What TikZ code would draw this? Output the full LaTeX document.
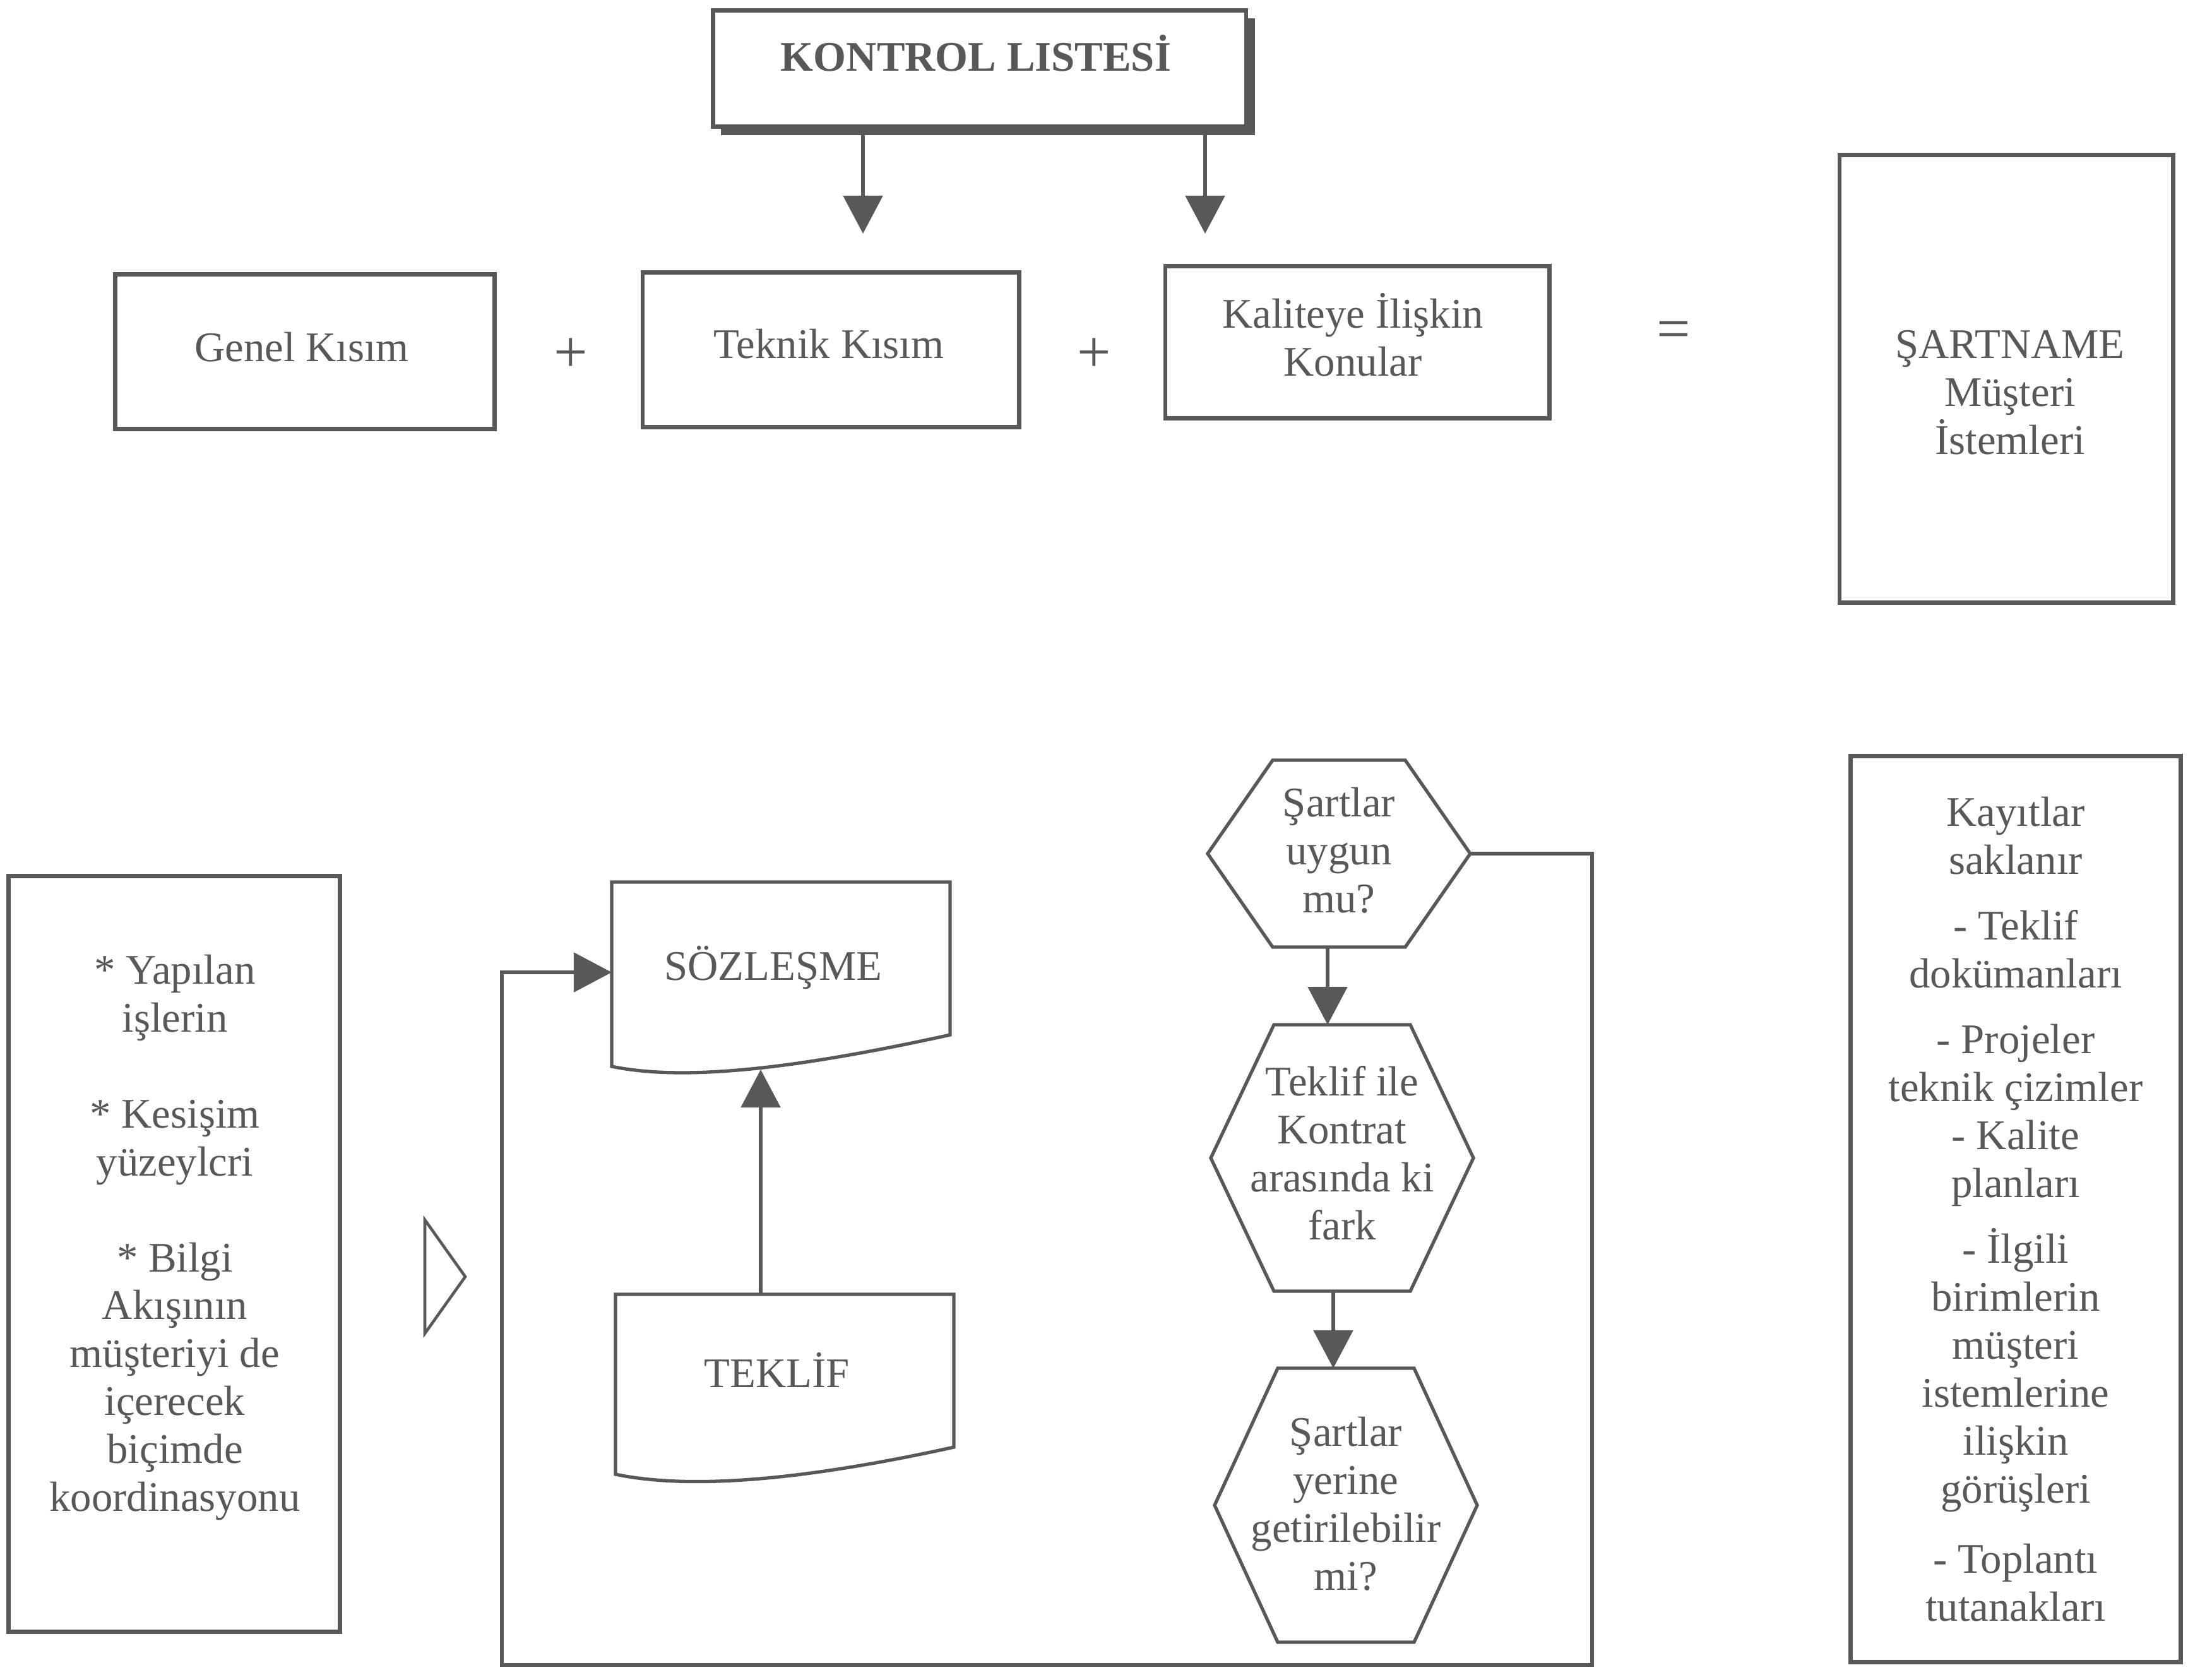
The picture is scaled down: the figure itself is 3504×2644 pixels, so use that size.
\documentclass[tikz,border=0pt]{standalone}
\usepackage{fontspec}
\setmainfont{Liberation Serif}
\usetikzlibrary{arrows.meta}
\definecolor{ink}{RGB}{88,88,88}
\begin{document}
\begin{tikzpicture}[x=0.01cm,y=-0.01cm,
  every node/.style={text=ink, font=\fontsize{19}{21.6}\selectfont, align=center, inner sep=0pt},
  box/.style={draw=ink, line width=1.9pt, fill=white},
  ln/.style={draw=ink, line width=1.5pt},
  arr/.style={ln, -{Triangle[length=0.6cm,width=0.62cm]}},
  sym/.style={font=\fontsize{27}{27}\selectfont},
  hexagon/.style={draw=ink, line width=1.5pt, line join=miter}
]
\useasboundingbox (0,0) rectangle (3504,2644);
\fill[white] (0,0) rectangle (3504,2644);

% ---------- top part ----------
\fill[ink] (1142,29) rectangle (1988,214);
\node[box, minimum width=8.44cm, minimum height=1.84cm, anchor=north west] (kontrol) at (1126,13) {};
\node[font=\bfseries\fontsize{19}{21.6}\selectfont] (kontrolt) at (1546,84) {KONTROL LISTESİ};

\coordinate (ka) at (1367,370);
\coordinate (kb) at (1909,370);
\draw[arr] (kontrol.south -| ka) -- (ka);
\draw[arr] (kontrol.south -| kb) -- (kb);

\node[box, minimum width=6.01cm, minimum height=2.45cm] (genel) at (483,557) {};
\node (genelt) at (478,550) {Genel Kısım};
\node[sym] (plus1) at (904,563) {+};
\node[box, minimum width=5.96cm, minimum height=2.45cm] (teknik) at (1316,554) {};
\node (teknikt) at (1313,545) {Teknik Kısım};
\node[sym] (plus2) at (1733,563) {+};
\node[box, minimum width=6.08cm, minimum height=2.41cm] (kalite) at (2150,542) {};
\node (kalitet) at (2143,530) {Kaliteye İlişkin\\Konular};
\node[sym] (esit) at (2651,531) {=};
\node[box, minimum width=5.28cm, minimum height=7.09cm] (sartname) at (3178,600) {};
\node (sartnamet) at (3184,622) {ŞARTNAME\\Müşteri\\İstemleri};

% ---------- bottom left ----------
\node[box, minimum width=5.25cm, minimum height=11.96cm] (solkutu) at (276,1986) {};
\node (solt) at (277,1960) {* Yapılan\\işlerin\\[21.6pt]* Kesişim\\yüzeylcri\\[21.6pt]* Bilgi\\Akışının\\müşteriyi de\\içerecek\\biçimde\\koordinasyonu};

\draw[ink, line width=1.3pt, line join=miter] (673,1932) -- (737,2022) -- (673,2112) -- cycle;

% ---------- documents ----------
\draw[ln, fill=white] (969,1689) -- (969,1397) -- (1505,1397) -- (1505,1639)
  .. controls (1250,1695) and (1080,1712) .. (969,1689) -- cycle;
\node (soz) at (1225,1533) {SÖZLEŞME};
\coordinate (sozL) at (969,1540);
\coordinate (sozB) at (1205,1694);

\draw[ln, fill=white] (975,2335) -- (975,2050) -- (1511,2050) -- (1511,2292)
  .. controls (1256,2348) and (1086,2358) .. (975,2335) -- cycle;
\node (tek) at (1231,2170) {TEKLİF};
\coordinate (tekT) at (1205,2050);

\draw[arr] (tekT) -- (sozB);

% ---------- hexagons ----------
\draw[hexagon] (1913,1352) -- (2016,1204) -- (2226,1204) -- (2329,1352) -- (2226,1500) -- (2016,1500) -- cycle;
\node (h1) at (2121,1347) {Şartlar\\uygun\\mu?};
\coordinate (h1r) at (2329,1352);
\coordinate (h1b) at (2103,1500);
\coordinate (h2t) at (2103,1623);

\draw[hexagon] (1918,1834) -- (2018,1623) -- (2234,1623) -- (2334,1834) -- (2234,2045) -- (2018,2045) -- cycle;
\node (h2) at (2126,1826) {Teklif ile\\Kontrat\\arasında ki\\fark};
\coordinate (h2b) at (2112,2045);
\coordinate (h3t) at (2112,2167);

\draw[hexagon] (1924,2384) -- (2024,2167) -- (2240,2167) -- (2340,2384) -- (2240,2601) -- (2024,2601) -- cycle;
\node (h3) at (2132,2382) {Şartlar\\yerine\\getirilebilir\\mi?};

\draw[arr] (h1b) -- (h2t);
\draw[arr] (h2b) -- (h3t);

% ---------- loop ----------
\coordinate (loopBR) at (2522,2637);
\coordinate (loopBL) at (795,2637);
\draw[arr, line join=miter] (h1r) -| (loopBR) -- (loopBL) |- (sozL);

% ---------- right box ----------
\node[box, minimum width=5.23cm, minimum height=14.34cm] (kayit) at (3193,1915)
  {Kayıtlar\\saklanır\\[8pt]- Teklif\\dokümanları\\[8pt]- Projeler\\teknik çizimler\\- Kalite\\planları\\[8pt]- İlgili\\birimlerin\\müşteri\\istemlerine\\ilişkin\\görüşleri\\[10pt]- Toplantı\\tutanakları};
\end{tikzpicture}
\end{document}
